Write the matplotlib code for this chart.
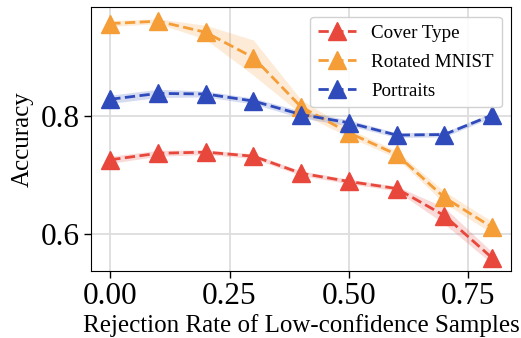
import numpy as np
import matplotlib.pyplot as plt

plt.rcParams["font.family"] = ["Liberation Serif", "DejaVu Serif"]

# rejection rates
rates = [0.0, 0.1, 0.2, 0.3, 0.4, 0.5, 0.6, 0.7, 0.8]

# mean accuracy per dataset
cover_type = [0.726, 0.737, 0.739, 0.732, 0.703, 0.689, 0.677, 0.631, 0.559]
rotated_mnist = [0.958, 0.962, 0.943, 0.900, 0.816, 0.772, 0.735, 0.662, 0.611]
portraits = [0.829, 0.839, 0.838, 0.826, 0.803, 0.789, 0.768, 0.769, 0.802]

# spread (std) used for the shaded bands
cover_type_std = [0.006, 0.005, 0.004, 0.004, 0.004, 0.004, 0.004, 0.014, 0.010]
rotated_mnist_std = [0.005, 0.004, 0.012, 0.030, 0.012, 0.007, 0.006, 0.010, 0.010]
portraits_std = [0.007, 0.007, 0.005, 0.005, 0.006, 0.005, 0.004, 0.004, 0.004]

series = [
    ("Cover Type", cover_type, cover_type_std, "#e8473c"),
    ("Rotated MNIST", rotated_mnist, rotated_mnist_std, "#f59d37"),
    ("Portraits", portraits, portraits_std, "#2f4bbb"),
]

fig, ax = plt.subplots(figsize=(5.21, 3.38), dpi=100)

for name, mean, std, color in series:
    mean = np.array(mean)
    std = np.array(std)
    ax.fill_between(rates, mean - std, mean + std, color=color, alpha=0.2, linewidth=0)
    ax.plot(rates, mean, "--", color=color, marker="^", markersize=13,
            linewidth=2, label=name)

ax.grid(True, color="#dddddd", linewidth=1.3)
ax.set_axisbelow(True)
ax.set_xticks([0.0, 0.25, 0.5, 0.75])
ax.set_yticks([0.6, 0.8])
ax.set_ylim(0.537, 0.986)
ax.tick_params(labelsize=22.5, length=5, width=1, pad=3)
ax.set_xlabel("Rejection Rate of Low-confidence Samples", fontsize=18, labelpad=2)
ax.set_ylabel("Accuracy", fontsize=18, labelpad=5)
ax.legend(loc="upper right", fontsize=13.7, handlelength=2.0,
          framealpha=0.9, edgecolor="#cccccc", borderpad=0.4, labelspacing=0.62)

fig.subplots_adjust(left=0.175, right=0.981, top=0.979, bottom=0.199)
plt.savefig("out.png")
